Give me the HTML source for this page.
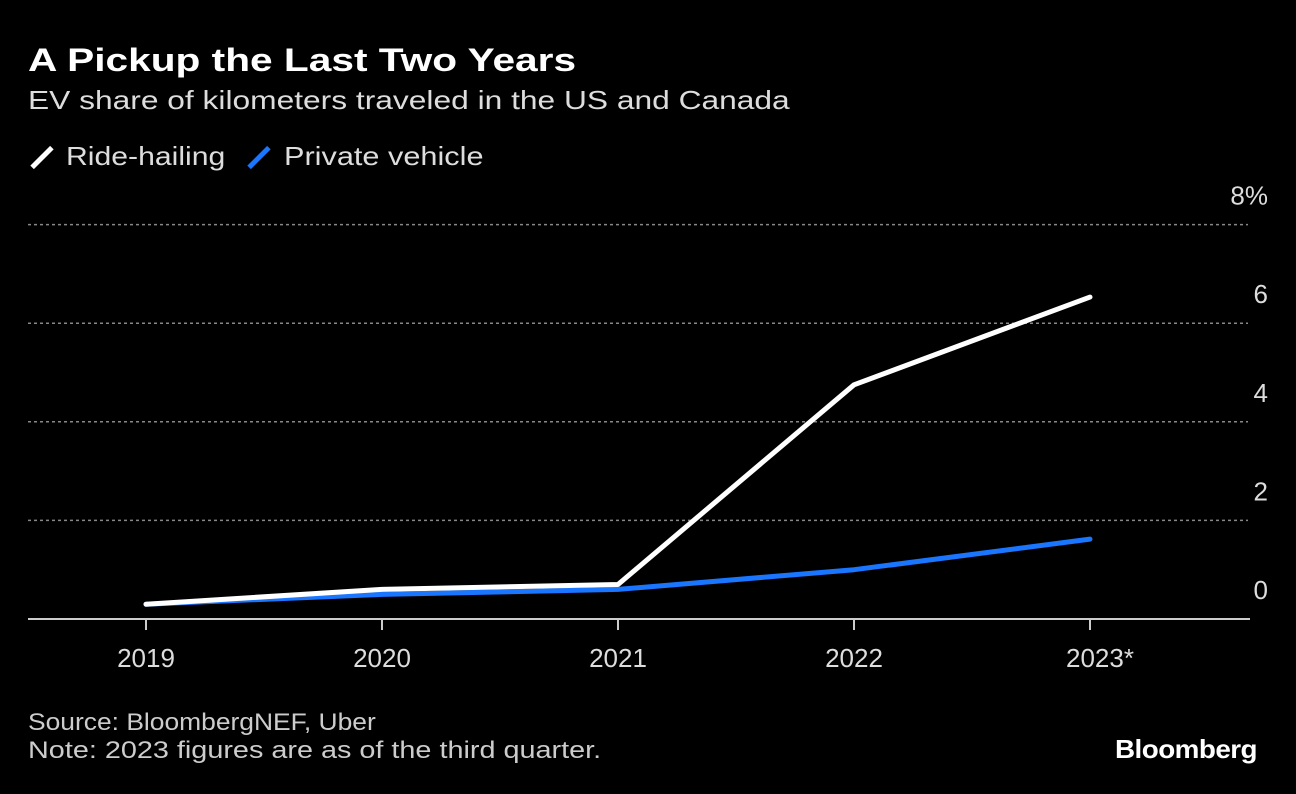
<!DOCTYPE html>
<html><head><meta charset="utf-8"><style>
body{margin:0;background:#000;width:1296px;height:794px;overflow:hidden;font-family:"Liberation Sans",sans-serif;color:#fff}
.t{position:absolute;white-space:nowrap;transform-origin:0 0}
</style></head><body>
<div class="t" style="left:28px;top:42px;font-size:32px;font-weight:bold;transform:scaleX(1.27)">A Pickup the Last Two Years</div>
<div class="t" style="left:28px;top:85px;font-size:26px;color:#ddd;transform:scaleX(1.22)">EV share of kilometers traveled in the US and Canada</div>
<div class="t" style="left:28px;top:155px;width:28px;height:5px;background:#fff;transform:rotate(-45deg);transform-origin:50% 50%"></div>
<div class="t" style="left:66px;top:141px;font-size:26px;color:#ddd;transform:scaleX(1.16)">Ride-hailing</div>
<div class="t" style="left:245px;top:155px;width:28px;height:5px;background:#1a75ff;transform:rotate(-45deg);transform-origin:50% 50%"></div>
<div class="t" style="left:284px;top:141px;font-size:26px;color:#ddd;transform:scaleX(1.18)">Private vehicle</div>
<svg id="c" width="1296" height="794" style="position:absolute;left:0;top:0"></svg>
<div class="t" style="left:28px;top:709px;font-size:24px;color:#ccc;transform:scaleX(1.1)">Source: BloombergNEF, Uber</div>
<div class="t" style="left:28px;top:737px;font-size:24px;color:#ccc;transform:scaleX(1.2)">Note: 2023 figures are as of the third quarter.</div>
<div class="t" style="left:1115px;top:734px;font-size:26px;font-weight:bold;letter-spacing:-0.5px;transform:scaleX(1.07)">Bloomberg</div>
<script>
const categories=["2019","2020","2021","2022","2023*"];
const rideHailing=[0.3,0.6,0.7,4.75,6.53];
const privateVehicle=[0.3,0.5,0.6,1.0,1.62];
const yTicks=[0,2,4,6,8];
const yTickLabels=["0","2","4","6","8%"];
const svg=document.getElementById('c');const NS="http://www.w3.org/2000/svg";
const x=i=>146+i*236, y=v=>619-v*49.3;
function el(n,a){const e=document.createElementNS(NS,n);for(const k in a)e.setAttribute(k,a[k]);svg.appendChild(e);return e;}
yTicks.forEach((v,i)=>{
 if(v>0){const g=el('line',{x1:28,x2:1248,y1:y(v),y2:y(v),stroke:'#888','stroke-width':1.5,'stroke-dasharray':'3,3'});
 
 }
 const t=el('text',{x:1268,y:y(v)-20,'text-anchor':'end','font-size':26,fill:'#ddd','font-family':'Liberation Sans'});t.textContent=yTickLabels[i];
 
 
});
const ax=el('line',{x1:28,x2:1250,y1:619,y2:619,stroke:'#ccc','stroke-width':2});


categories.forEach((c,i)=>{
 const tk=el('line',{x1:x(i),x2:x(i),y1:619,y2:630,stroke:'#ccc','stroke-width':2});
 
 
 const t=el('text',{x:x(i)+(i==4?10:0),y:667,'text-anchor':'middle','font-size':26,fill:'#ddd','font-family':'Liberation Sans'});t.textContent=c;
 
 
});
function line(d,col,name){const p=el('polyline',{points:d.map((v,i)=>x(i)+','+y(v)).join(' '),fill:'none',stroke:col,'stroke-width':5,'stroke-linejoin':'round','stroke-linecap':'round'});
 
 }
line(privateVehicle,'#1a75ff','private-vehicle-line');
line(rideHailing,'#fff','ride-hailing-line');
</script>
</body></html>
